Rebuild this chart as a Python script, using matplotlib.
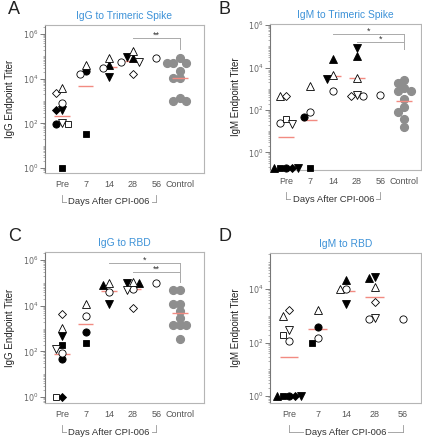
import numpy as np
import matplotlib
matplotlib.use('Agg')
import matplotlib.pyplot as plt
from matplotlib import transforms
from matplotlib.ticker import FixedLocator, LogLocator, FuncFormatter, NullFormatter

plt.rcParams['font.family'] = ['Liberation Sans', 'DejaVu Sans']

nan = np.nan

# ---------------- data (endpoint titers) ----------------
days = ['Pre', '7', '14', '28', '56']
subjects = ['fc', 'fs', 'fd', 'fu', 'fdn', 'oc', 'os', 'od', 'ou', 'odn']

# per subject: Pre, d7, d14, d28, d56
igg_spike = {
    'fc':  [91, 21400, nan, nan, nan],
    'fs':  [1, 32, nan, nan, nan],
    'fd':  [380, nan, nan, nan, nan],
    'fu':  [nan, nan, 41700, 83200, nan],
    'fdn': [417, nan, 11700, 95500, nan],
    'oc':  [832, 16600, 29500, 53700, 83200],
    'os':  [91, nan, nan, nan, nan],
    'od':  [2240, nan, nan, 16600, nan],
    'ou':  [3890, 41700, 83200, 170000, nan],
    'odn': [102, nan, nan, 57500, nan],
}
igg_spike_ctrl = [83200, 47900, 47900, 47900, 21900, 10200, 10200, 1380, 1050, 1050]
igg_spike_mean = [214, 4570, 31600, 61700, nan]
igg_spike_ctrl_mean = 10200

igm_spike = {
    'fc':  [0.18, 49, nan, nan, nan],
    'fs':  [0.18, 0.18, nan, nan, nan],
    'fd':  [0.18, nan, nan, nan, nan],
    'fu':  [0.18, nan, 24000, 35500, nan],
    'fdn': [0.18, nan, 2950, 85100, nan],
    'oc':  [25, 79, 741, 437, 513],
    'os':  [39, nan, nan, nan, nan],
    'od':  [479, nan, nan, 479, nan],
    'ou':  [479, 1410, 4680, 3160, nan],
    'odn': [22, nan, nan, 501, nan],
}
igm_spike_ctrl = [2690, 1950, 1100, 759, 759, 324, 135, 79, 39, 15]
igm_spike_mean = [5.6, 32, 3800, 3240, nan]
igm_spike_ctrl_mean = 257

igg_rbd = {
    'fc':  [45, 724, nan, nan, nan],
    'fs':  [186, 245, nan, nan, nan],
    'fd':  [1, nan, nan, nan, nan],
    'fu':  [nan, nan, 79400, 95500, nan],
    'fdn': [479, nan, 12600, 100000, nan],
    'oc':  [89, 3630, 40700, 57500, 95500],
    'os':  [1, nan, nan, nan, nan],
    'od':  [4270, nan, nan, 8320, nan],
    'ou':  [1070, 11500, 95500, 112000, nan],
    'odn': [129, nan, nan, 49000, nan],
}
igg_rbd_ctrl = [49000, 49000, 12600, 12600, 6030, 2820, 1410, 1410, 1410, 363]
igg_rbd_mean = [79, 1660, 43700, 57500, nan]
igg_rbd_ctrl_mean = 4900

igm_rbd = {
    'fc':  [1, 389, nan, nan, nan],
    'fs':  [1, 98, nan, nan, nan],
    'fd':  [1, nan, nan, nan, nan],
    'fu':  [1, nan, 21900, 25100, nan],
    'fdn': [1, nan, 2880, 27500, nan],
    'oc':  [115, 151, 10500, 794, 794],
    'os':  [200, nan, nan, nan, nan],
    'od':  [1620, nan, nan, 3390, nan],
    'ou':  [977, 1620, 9770, 12300, nan],
    'odn': [295, nan, nan, 851, nan],
}
igm_rbd_mean = [28, 316, 8710, 5130, nan]

# ---------------- styles ----------------
marker_style = {
    'fc': ('o', True), 'fs': ('s', True), 'fd': ('D', True),
    'fu': ('^', True), 'fdn': ('v', True),
    'oc': ('o', False), 'os': ('s', False), 'od': ('D', False),
    'ou': ('^', False), 'odn': ('v', False),
}
marker_size = {'o': 5.2, 's': 4.8, 'D': 3.9, '^': 5.3, 'v': 5.3}
RED = '#f28b82'
BLUE = '#3d92d8'
GRAY = '#8e8e8e'


def swarm_offsets(ax, xc, vals, step=6.0):
    # simple beeswarm in pixel space, returned in x data units
    vals = np.asarray(vals, dtype=float)
    pts = ax.transData.transform(np.column_stack([np.full(len(vals), xc), vals]))
    ys = pts[:, 1]
    order = np.argsort(-vals, kind='stable')
    placed = []
    offs = np.zeros(len(vals))
    for i in order:
        for k in [0, -1, 1, -2, 2, -3, 3, -4, 4]:
            dx = k * step
            if all((dx - px) ** 2 + (ys[i] - py) ** 2 >= (step * 0.98) ** 2 for px, py in placed):
                break
        placed.append((dx, ys[i]))
        offs[i] = dx
    ppu = ax.transData.transform((1, 1))[0] - ax.transData.transform((0, 1))[0]
    return offs / ppu


def setup_axes(ax, labels, xlim, ylim_log, title, ylabel, ylab_x):
    ax.set_yscale('log')
    ax.set_xlim(*xlim)
    ax.set_ylim(10 ** ylim_log[0], 10 ** ylim_log[1])
    ax.yaxis.set_major_locator(FixedLocator([1, 1e2, 1e4, 1e6]))
    ax.yaxis.set_major_formatter(FuncFormatter(
        lambda v, p: r'$10^{%d}$' % int(round(np.log10(v)))))
    ax.yaxis.set_minor_locator(LogLocator(base=10, subs=np.arange(1, 10), numticks=20))
    ax.yaxis.set_minor_formatter(NullFormatter())
    ax.tick_params(axis='y', which='major', length=3.5, width=0.6, color='#666',
                   labelsize=5.8, labelcolor='#666', pad=1.5)
    ax.tick_params(axis='y', which='minor', length=1.8, width=0.4, color='#777')
    ax.set_xticks(range(len(labels)))
    ax.set_xticklabels(labels)
    ax.tick_params(axis='x', length=0, labelsize=6.5, labelcolor='#555', pad=5)
    for s in ax.spines.values():
        s.set_color('#b5b5b5')
        s.set_linewidth(0.8)
    ax.spines['left'].set_color('#777')
    ax.set_title(title, color=BLUE, fontsize=7.4, pad=4)
    ax.set_ylabel(ylabel, fontsize=7, color='#222')
    ax.yaxis.set_label_coords(ylab_x, 0.5)


def draw_groups(ax, data, means, ctrl=None, ctrl_mean=None):
    for j in range(len(days)):
        subs = [s for s in subjects if not np.isnan(data[s][j])]
        vals = [data[s][j] for s in subs]
        offs = swarm_offsets(ax, j, vals)
        for s, v, o in zip(subs, vals, offs):
            m, filled = marker_style[s]
            ax.plot(j + o, v, marker=m, ms=marker_size[m], ls='none',
                    mfc='black' if filled else 'white', mec='black', mew=0.6,
                    zorder=3, clip_on=False)
        if not np.isnan(means[j]):
            ax.hlines(means[j], j - 0.33, j + 0.33, color=RED, lw=1.0, zorder=2)
    if ctrl is not None:
        jc = len(days)
        offs = swarm_offsets(ax, jc, ctrl, step=6.5)
        ax.plot(jc + offs, ctrl, 'o', ms=5.6, mfc=GRAY, mec=GRAY, ls='none',
                zorder=3)
        ax.hlines(ctrl_mean, jc - 0.33, jc + 0.33, color=RED, lw=1.0, zorder=4)


def sig_bracket(ax, x0, x1, y, ydrop, text):
    ax.plot([x0, x1], [y, y], color='#aaa', lw=0.7, clip_on=False)
    ax.plot([x1, x1], [y, ydrop], color='#aaa', lw=0.7, clip_on=False)
    ax.text((x0 + x1) / 2, y * 10 ** 0.12, text, ha='center', va='center',
            fontsize=6.5, color='#333')


def days_bracket(ax, x0, x1, y_top, y_txt):
    tr = transforms.blended_transform_factory(ax.transData, ax.transAxes)
    kw = dict(color='#999', lw=0.6, transform=tr, clip_on=False)
    ax.plot([x0, x0], [y_top, y_txt], **kw)
    ax.plot([x1, x1], [y_top, y_txt], **kw)
    ax.plot([x0, x1], [y_txt, y_txt], **kw)
    ax.text((x0 + x1) / 2, y_txt, 'Days After CPI-006', transform=tr,
            ha='center', va='center', fontsize=6.8, color='#333',
            bbox=dict(fc='white', ec='none', pad=1.2))


W, H = 422, 440
fig = plt.figure(figsize=(W / 100, H / 100), dpi=100)


def add_ax(l, r, t, b):
    return fig.add_axes([l / W, 1 - b / H, (r - l) / W, (b - t) / H])


labels_ctrl = days + ['Control']

# A
axA = add_ax(45, 204, 25, 173)
setup_axes(axA, labels_ctrl, (-0.72, 6.02), (-0.22, 6.4),
           'IgG to Trimeric Spike', 'IgG Endpoint Titer', -30 / 159)
draw_groups(axA, igg_spike, igg_spike_mean, igg_spike_ctrl, igg_spike_ctrl_mean)
sig_bracket(axA, 3, 5, 10 ** 5.82, 10 ** 5.33, '**')
days_bracket(axA, 0, 4, -22 / 148, -29 / 148)

# B
axB = add_ax(270, 421, 24, 170)
setup_axes(axB, labels_ctrl, (-0.68, 5.72), (-0.83, 6.05),
           'IgM to Trimeric Spike', 'IgM Endpoint Titer', -29 / 151)
draw_groups(axB, igm_spike, igm_spike_mean, igm_spike_ctrl, igm_spike_ctrl_mean)
sig_bracket(axB, 2, 5, 10 ** 5.6, 10 ** 4.85, '*')
sig_bracket(axB, 3, 5, 10 ** 5.22, 10 ** 4.85, '*')
days_bracket(axB, 0, 4, -22 / 146, -29 / 146)

# C
axC = add_ax(45, 204, 252, 403)
setup_axes(axC, labels_ctrl, (-0.72, 6.02), (-0.26, 6.36),
           'IgG to RBD', 'IgG Endpoint Titer', -30 / 159)
draw_groups(axC, igg_rbd, igg_rbd_mean, igg_rbd_ctrl, igg_rbd_ctrl_mean)
sig_bracket(axC, 2, 5, 10 ** 5.88, 10 ** 5.04, '*')
sig_bracket(axC, 3, 5, 10 ** 5.48, 10 ** 5.04, '**')
days_bracket(axC, 0, 4, -22 / 151, -29 / 151)

# D
axD = add_ax(270, 421, 253, 403)
setup_axes(axD, days, (-0.67, 4.63), (-0.26, 5.35),
           'IgM to RBD', 'IgM Endpoint Titer', -29 / 151)
draw_groups(axD, igm_rbd, igm_rbd_mean)
days_bracket(axD, 0, 4, -22 / 150, -29 / 150)

for letter, x, y in [('A', 8, 10), ('B', 218, 10), ('C', 8, 236), ('D', 218, 236)]:
    fig.text(x / W, 1 - y / H, letter, fontsize=13, ha='left', va='center', color='#222')

fig.savefig('out.png', dpi=100)
